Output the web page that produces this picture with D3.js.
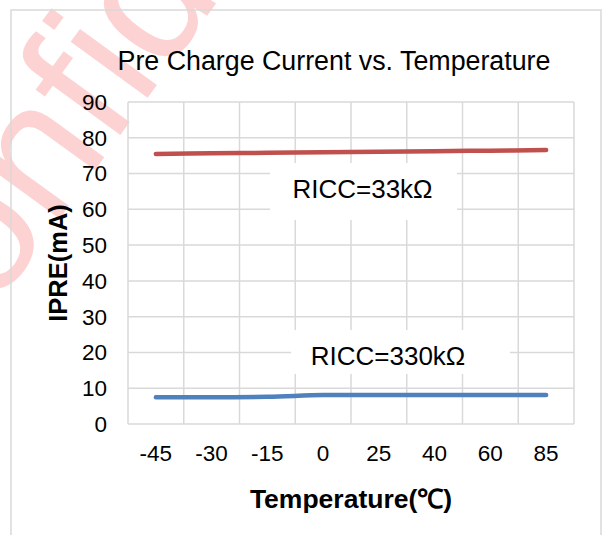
<!DOCTYPE html>
<html>
<head>
<meta charset="utf-8">
<script src="https://cdn.jsdelivr.net/npm/d3@7"></script>
<style>
html,body{margin:0;padding:0;background:#fff;}
svg{display:block;}
</style>
</head>
<body>
<svg id="chart" width="603" height="535"></svg>
<script>
const categories = ["-45", "-30", "-15", "0", "25", "40", "60", "85"];
const ricc33 = [75.5, 75.65, 75.8, 75.95, 76.1, 76.25, 76.4, 76.6];
const ricc330 = [7.5, 7.5, 7.6, 8.1, 8.1, 8.1, 8.1, 8.1];
const yTicks = [0, 10, 20, 30, 40, 50, 60, 70, 80, 90];
const titleText = "Pre Charge Current vs. Temperature";
const xTitle = "Temperature(\u2103)";
const yTitle = "IPRE(mA)";
const label33 = "RICC=33k\u03A9";
const label330 = "RICC=330k\u03A9";
const watermark = "Confidential";

const FONT = "'Liberation Sans', Arial, sans-serif";
const svg = d3.select("#chart");

const x = d3.scaleBand().domain(categories).range([128, 574]);
const y = d3.scaleLinear().domain([0, 90]).range([424, 102]);

// watermark
svg.append("text")
  .attr("transform", "translate(-83,415) rotate(-54)")
  .attr("font-family", FONT)
  .attr("font-size", 180)
  .attr("fill", "rgba(240,50,50,0.22)")
  .text(watermark);

// outer border
svg.append("rect").attr("x", 11).attr("y", 10).attr("width", 590).attr("height", 540)
  .attr("fill", "none").attr("stroke", "#d9d9d9").attr("stroke-width", 1.5);

// title
svg.append("text").attr("x", 334).attr("y", 70).attr("text-anchor", "middle")
  .attr("font-family", FONT).attr("font-size", 26.8).attr("fill", "#000").text(titleText);

// grid
const grid = svg.append("g").attr("stroke", "#d9d9d9").attr("stroke-width", 1.5);
yTicks.forEach(t => {
  grid.append("line").attr("x1", x.range()[0]).attr("x2", x.range()[1])
    .attr("y1", y(t)).attr("y2", y(t));
});
const bounds = categories.map(c => x(c)).concat([x.range()[1]]);
bounds.forEach(b => {
  grid.append("line").attr("x1", b).attr("x2", b)
    .attr("y1", y(90)).attr("y2", y(0));
});

// y tick labels
svg.append("g").selectAll("text").data(yTicks).join("text")
  .attr("x", 107).attr("y", d => y(d)).attr("dy", "0.35em")
  .attr("text-anchor", "end").attr("font-family", FONT).attr("font-size", 22.5)
  .attr("fill", "#000").text(d => d);

// x tick labels
svg.append("g").selectAll("text").data(categories).join("text")
  .attr("x", d => x(d) + x.bandwidth() / 2).attr("y", 461)
  .attr("text-anchor", "middle").attr("font-family", FONT).attr("font-size", 22.5)
  .attr("fill", "#000").text(d => d);

// axis titles
svg.append("text").attr("x", 351).attr("y", 508).attr("text-anchor", "middle")
  .attr("font-family", FONT).attr("font-size", 26.5).attr("font-weight", "bold")
  .attr("fill", "#000").text(xTitle);
svg.append("text").attr("transform", "translate(67,263) rotate(-90)")
  .attr("text-anchor", "middle")
  .attr("font-family", FONT).attr("font-size", 25.5).attr("font-weight", "bold")
  .attr("fill", "#000").text(yTitle);

// series lines
const line = d3.line()
  .x((d, i) => x(categories[i]) + x.bandwidth() / 2)
  .y(d => y(d))
  .curve(d3.curveCatmullRom.alpha(0));
svg.append("path").datum(ricc33).attr("d", line).attr("fill", "none")
  .attr("stroke", "#C0504D").attr("stroke-width", 4.5).attr("stroke-linecap", "round");
svg.append("path").datum(ricc330).attr("d", line).attr("fill", "none")
  .attr("stroke", "#4F81BD").attr("stroke-width", 4.5).attr("stroke-linecap", "round");

// data labels with white boxes
function label(txt, bx0, by0, bx1, by1, cx, base) {
  svg.append("rect").attr("x", bx0).attr("y", by0).attr("width", bx1 - bx0).attr("height", by1 - by0)
    .attr("fill", "#fff");
  svg.append("text").attr("x", cx).attr("y", base).attr("text-anchor", "middle")
    .attr("font-family", FONT).attr("font-size", 26).attr("fill", "#000").text(txt);
}
label(label33, 270, 163, 457, 220, 362.5, 198);
label(label330, 291, 330, 510, 374, 388, 365);
</script>
</body>
</html>
